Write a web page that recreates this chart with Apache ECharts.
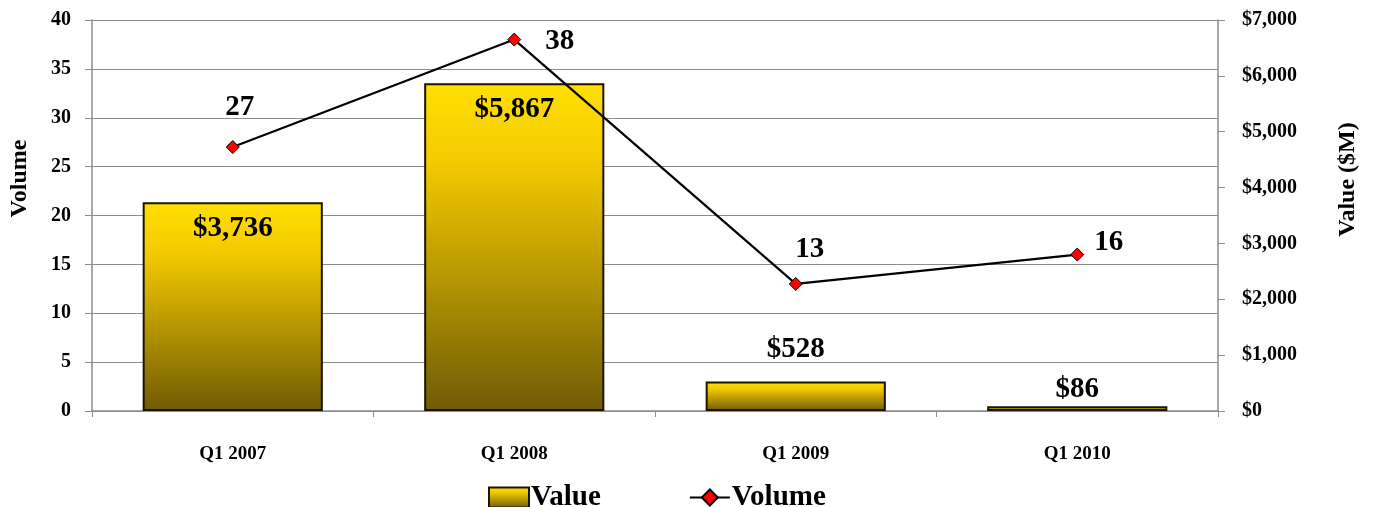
<!DOCTYPE html>
<html><head><meta charset="utf-8">
<script src="https://cdn.jsdelivr.net/npm/echarts@6/dist/echarts.min.js"></script>
<style>html,body{margin:0;padding:0;background:#fff}#c{width:1374px;height:507px}</style>
</head><body><div id="c"></div>
<script>
const categories = ['Q1 2007', 'Q1 2008', 'Q1 2009', 'Q1 2010'];
const valueData = [3736, 5867, 528, 86];
const volumeData = [27, 38, 13, 16];
const volumeTicks = [0, 5, 10, 15, 20, 25, 30, 35, 40];
const valueTicks = [0, 1000, 2000, 3000, 4000, 5000, 6000, 7000];

const FONT = '"Liberation Serif", serif';
const chart = echarts.init(document.getElementById('c'));

const valueLabelPos = ['insideTop', 'insideTop', 'top', 'top'];
const valueLabelDist = [12, 12, 17, 2];
const volumeLabelOffsets = [[7, -18], [24, 2], [14, -13], [10, -12]];
const volumeLabelPos = ['top', 'right', 'top', 'right'];

chart.setOption({
  animation: false,
  grid: { left: 92, right: 156, top: 20, bottom: 96 },
  legend: {
    top: 478, left: 483,
    itemGap: 88, itemWidth: 40, itemHeight: 20,
    textStyle: { fontFamily: FONT, fontWeight: 'bold', fontSize: 29, color: '#000', padding: [0, 0, 0, -3] },
    data: [{ name: 'Value', icon: 'rect' }, { name: 'Volume' }]
  },
  xAxis: {
    type: 'category', data: categories,
    axisLine: { lineStyle: { color: '#8c8c8c', width: 1.5 } },
    axisTick: { show: true, length: 6, lineStyle: { color: '#8c8c8c' } },
    axisLabel: { margin: 34, fontFamily: FONT, fontWeight: 'bold', fontSize: 19, color: '#000' }
  },
  yAxis: [
    {
      type: 'value', min: volumeTicks[0], max: volumeTicks[volumeTicks.length - 1], interval: 5,
      name: 'Volume', nameLocation: 'middle', nameRotate: 90, nameGap: 60,
      nameTextStyle: { fontFamily: FONT, fontWeight: 'bold', fontSize: 24, color: '#000', padding: [0, 0, 0, 74] },
      axisLine: { show: true, lineStyle: { color: '#8c8c8c', width: 1.5 } },
      axisTick: { show: true, length: 7, lineStyle: { color: '#8c8c8c' } },
      axisLabel: { margin: 21, fontFamily: FONT, fontWeight: 'bold', fontSize: 20, color: '#000' },
      splitLine: { lineStyle: { color: '#8c8c8c', width: 1.2 } }
    },
    {
      type: 'value', min: valueTicks[0], max: valueTicks[valueTicks.length - 1], interval: 1000,
      name: 'Value ($M)', nameLocation: 'middle', nameRotate: 90, nameGap: 118,
      nameTextStyle: { fontFamily: FONT, fontWeight: 'bold', fontSize: 24, color: '#000', padding: [0, 0, 0, 72] },
      axisLine: { show: true, lineStyle: { color: '#8c8c8c', width: 1.5 } },
      axisTick: { show: true, length: 7, lineStyle: { color: '#8c8c8c' } },
      axisLabel: {
        margin: 24, fontFamily: FONT, fontWeight: 'bold', fontSize: 20, color: '#000',
        formatter: v => '$' + v.toLocaleString('en-US')
      },
      splitLine: { show: false }
    }
  ],
  series: [
    {
      name: 'Value', type: 'bar', yAxisIndex: 1, barWidth: '64%',
      itemStyle: {
        color: new echarts.graphic.LinearGradient(0, 0, 0, 1, [
          { offset: 0, color: '#ffe000' },
          { offset: 0.25, color: '#f2c900' },
          { offset: 1, color: '#6f5b05' }
        ]),
        borderColor: '#1a1400', borderWidth: 2
      },
      data: valueData.map((v, i) => ({
        value: v,
        label: { show: true, position: valueLabelPos[i], distance: valueLabelDist[i],
          formatter: p => '$' + p.value.toLocaleString('en-US'),
          fontFamily: FONT, fontWeight: 'bold', fontSize: 29, color: '#000' }
      }))
    },
    {
      name: 'Volume', type: 'line', yAxisIndex: 0,
      symbol: 'diamond', symbolSize: 13,
      lineStyle: { color: '#000', width: 2.2 },
      itemStyle: { color: '#ff0000', borderColor: '#000', borderWidth: 1 },
      data: volumeData.map((v, i) => ({
        value: v,
        label: { show: true, position: volumeLabelPos[i], offset: volumeLabelOffsets[i], distance: 0,
          fontFamily: FONT, fontWeight: 'bold', fontSize: 29, color: '#000' }
      }))
    }
  ]
});
</script></body></html>
